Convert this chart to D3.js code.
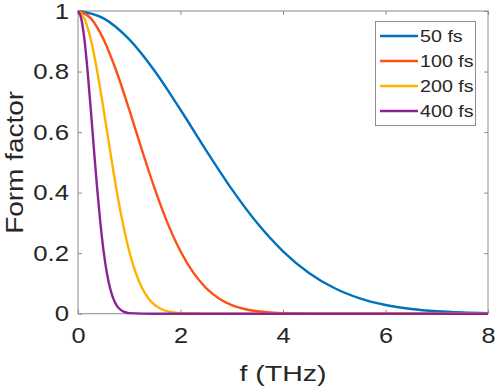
<!DOCTYPE html>
<html><head><meta charset="utf-8">
<script src="https://cdn.jsdelivr.net/npm/d3@7"></script>
<style>body{margin:0;background:#fff}svg{display:block}text{font-family:"Liberation Sans",Arial,sans-serif;fill:#262626}</style>
</head><body>
<script>
// Data
const seriesNames = ["50 fs", "100 fs", "200 fs", "400 fs"];
const f50 = [0,0.5,1,1.5,2,2.5,3,3.5,4,4.5,5,5.5,6,6.5,7,7.5,8];
const v50 = [1,0.9756,0.9060,0.8009,0.6738,0.5396,0.4114,0.2985,0.2062,0.1355,0.0848,0.0505,0.0286,0.0155,0.0079,0.0039,0.0018];
const f100 = [0,0.25,0.5,0.75,1,1.25,1.5,1.75,2,2.25,2.5,2.75,3,3.25,3.5,3.75,4,5,6,7,8];
const v100 = [1,0.9756,0.9060,0.8009,0.6738,0.5396,0.4114,0.2985,0.2062,0.1355,0.0848,0.0505,0.0286,0.0155,0.0079,0.0039,0.0018,0,0,0,0];
const f200 = [0,0.125,0.25,0.375,0.5,0.625,0.75,0.875,1,1.125,1.25,1.375,1.5,1.625,1.75,1.875,2,3,4,5,6,7,8];
const v200 = [1,0.9756,0.9060,0.8009,0.6738,0.5396,0.4114,0.2985,0.2062,0.1355,0.0848,0.0505,0.0286,0.0155,0.0079,0.0039,0.0018,0,0,0,0,0,0];
const f400 = [0,0.0625,0.125,0.1875,0.25,0.3125,0.375,0.4375,0.5,0.5625,0.625,0.6875,0.75,0.8125,0.875,0.9375,1,1.5,2,3,4,5,6,7,8];
const v400 = [1,0.9756,0.9060,0.8009,0.6738,0.5396,0.4114,0.2985,0.2062,0.1355,0.0848,0.0505,0.0286,0.0155,0.0079,0.0039,0.0018,0,0,0,0,0,0,0,0];
const xTicks = [0,2,4,6,8];
const yTicks = [0,0.2,0.4,0.6,0.8,1];
const colors = ["#0072BD","#FF4F14","#FFB300","#8A2396"];

const W = 498, H = 392;
const m = {left:78, right:10, top:11, bottom:78.3};
const svg = d3.select("body").append("svg").attr("width",W).attr("height",H);
const x = d3.scaleLinear().domain([0,8]).range([m.left, W-m.right]);
const y = d3.scaleLinear().domain([0,1]).range([H-m.bottom, m.top]);

const series = [[f50,v50],[f100,v100],[f200,v200],[f400,v400]].map(([fs,vs],i)=>({
  name: seriesNames[i], color: colors[i], pts: fs.map((f,j)=>[f,vs[j]])
}));

function stretch(sel, k){
  sel.each(function(){
    const len = this.getComputedTextLength();
    if (len > 0) d3.select(this).attr("textLength", len*k).attr("lengthAdjust","spacingAndGlyphs");
  });
}

const axisColor = "#8c8c8c";
svg.append("rect").attr("x",x(0)).attr("y",y(1)).attr("width",x(8)-x(0)).attr("height",y(0)-y(1))
  .attr("fill","none").attr("stroke",axisColor).attr("stroke-width",1);

function styleAxis(g){
  g.select(".domain").remove();
  g.selectAll(".tick line").attr("stroke",axisColor);
  g.selectAll(".tick text").attr("font-size",22).attr("fill","#262626")
   .attr("font-family","'Liberation Sans',Arial,sans-serif");
}
const gx = svg.append("g").attr("transform",`translate(0,${y(0)})`)
  .call(d3.axisBottom(x).tickValues(xTicks).tickFormat(d3.format("d")).tickSizeInner(-4).tickSizeOuter(0).tickPadding(14))
  .call(styleAxis);
const gy = svg.append("g").attr("transform",`translate(${x(0)},0)`)
  .call(d3.axisLeft(y).tickValues(yTicks).tickFormat(d=>d===0||d===1?String(d):d3.format(".1f")(d)).tickSizeInner(-4).tickSizeOuter(0).tickPadding(9))
  .call(styleAxis);
stretch(gx.selectAll(".tick text"), 1.15);
stretch(gy.selectAll(".tick text"), 1.17);
svg.append("g").attr("transform",`translate(0,${y(1)})`)
  .call(d3.axisTop(x).tickValues(xTicks).tickFormat("").tickSizeInner(-4).tickSizeOuter(0))
  .call(styleAxis);
svg.append("g").attr("transform",`translate(${x(8)},0)`)
  .call(d3.axisRight(y).tickValues(yTicks).tickFormat("").tickSizeInner(-4).tickSizeOuter(0))
  .call(styleAxis);

const line = d3.line().x(d=>x(d[0])).y(d=>y(d[1])).curve(d3.curveMonotoneX);
svg.append("g").selectAll("path").data(series).join("path")
  .attr("d",d=>line(d.pts)).attr("fill","none").attr("stroke",d=>d.color)
  .attr("stroke-width",2.4).attr("stroke-linejoin","round");

// labels
svg.append("text").attr("x",(x(0)+x(8))/2).attr("y",381).attr("text-anchor","middle")
  .attr("font-size",22.5).attr("textLength",87).attr("lengthAdjust","spacingAndGlyphs").text("f (THz)");
svg.append("text").attr("transform",`translate(23,${(y(0)+y(1))/2}) rotate(-90)`)
  .attr("text-anchor","middle").attr("font-size",23).attr("textLength",143).attr("lengthAdjust","spacingAndGlyphs").text("Form factor");

// legend
const lg = svg.append("g");
lg.append("rect").attr("x",375.5).attr("y",21.5).attr("width",100).attr("height",104)
  .attr("fill","#fff").attr("stroke",axisColor).attr("stroke-width",1);
series.forEach((s,i)=>{
  const yy = 36 + i*25;
  lg.append("line").attr("x1",380).attr("x2",418).attr("y1",yy).attr("y2",yy)
    .attr("stroke",s.color).attr("stroke-width",2.4);
  lg.append("text").attr("x",420).attr("y",yy).attr("dy","0.36em").attr("font-size",16.3).text(s.name)
    .call(stretch, 1.21);
});
</script>
</body></html>
